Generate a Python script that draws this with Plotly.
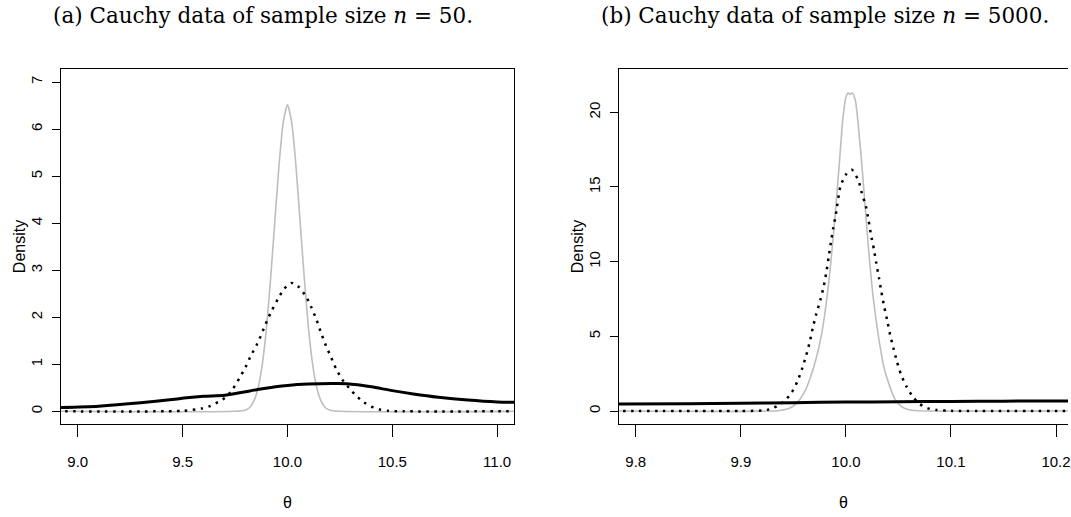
import plotly.graph_objects as go

# ---------------- data: panel (a), n = 50 ----------------
a_gray_x = [8.90, 9.75, 9.80, 9.82, 9.84, 9.86, 9.88, 9.90, 9.92, 9.94, 9.96, 9.98,
            10.00, 10.02, 10.04, 10.06, 10.08, 10.10, 10.12, 10.14, 10.16, 10.18,
            10.20, 10.25, 11.10]
a_gray_y = [0.0, 0.0, 0.03, 0.08, 0.22, 0.50, 1.00, 1.78, 2.85, 4.05, 5.25, 6.15,
            6.52, 6.15, 5.25, 4.05, 2.85, 1.78, 1.00, 0.50, 0.22, 0.08,
            0.03, 0.0, 0.0]

a_dot_x = [8.90, 9.50, 9.59, 9.63, 9.67, 9.71, 9.74, 9.77, 9.80, 9.825, 9.853, 9.877,
           9.902, 9.926, 9.956, 9.985, 10.02, 10.055, 10.09, 10.115, 10.139, 10.16,
           10.183, 10.208, 10.232, 10.262, 10.295, 10.33, 10.365, 10.40, 10.44, 10.48,
           10.55, 11.10]
a_dot_y = [0.0, 0.01, 0.06, 0.11, 0.20, 0.31, 0.48, 0.70, 0.94, 1.18, 1.41, 1.65,
           1.92, 2.15, 2.40, 2.61, 2.73, 2.64, 2.43, 2.20, 1.94, 1.67,
           1.40, 1.15, 0.90, 0.67, 0.49, 0.32, 0.19, 0.10, 0.04, 0.01,
           0.0, 0.0]

a_sol_x = [8.90, 9.10, 9.30, 9.45, 9.52, 9.60, 9.70, 9.78, 9.88, 10.00, 10.10, 10.24,
           10.32, 10.40, 10.50, 10.60, 10.72, 10.86, 11.00, 11.10]
a_sol_y = [0.08, 0.11, 0.18, 0.25, 0.29, 0.32, 0.34, 0.40, 0.48, 0.55, 0.58, 0.59,
           0.57, 0.52, 0.44, 0.37, 0.30, 0.24, 0.20, 0.19]

a_xticks = [9.0, 9.5, 10.0, 10.5, 11.0]
a_xticktext = ["9.0", "9.5", "10.0", "10.5", "11.0"]
a_yticks = [0, 1, 2, 3, 4, 5, 6, 7]

# ---------------- data: panel (b), n = 5000 ----------------
b_gray_x = [9.78, 9.935, 9.945, 9.952, 9.960, 9.966, 9.972, 9.977, 9.982, 9.986,
            9.990, 9.994, 9.997, 10.000, 10.002, 10.004, 10.006, 10.009, 10.012,
            10.016, 10.021, 10.026, 10.031, 10.036, 10.041, 10.047, 10.053, 10.060,
            10.068, 10.22]
b_gray_y = [0.0, 0.02, 0.15, 0.45, 1.2, 2.2, 3.6, 5.2, 7.6, 10.2,
            13.3, 16.8, 19.5, 21.0, 21.3, 21.2, 21.3, 20.8, 19.0,
            15.8, 11.3, 7.6, 5.0, 3.0, 1.8, 0.75, 0.3, 0.08,
            0.02, 0.0]

b_dot_x = [9.78, 9.90, 9.920, 9.9272, 9.9344, 9.942, 9.9485, 9.954, 9.9584, 9.9623,
           9.9656, 9.9685, 9.9718, 9.9757, 9.979, 9.9816, 9.9836, 9.9856, 9.9879,
           9.9905, 9.9948, 9.9997, 10.0056, 10.0118, 10.0151, 10.019, 10.0216,
           10.0239, 10.0266, 10.0289, 10.0315, 10.0338, 10.0364, 10.0393, 10.042,
           10.0452, 10.0485, 10.0525, 10.0577, 10.0636, 10.0702, 10.078, 10.0862,
           10.10, 10.22]
b_dot_y = [0.0, 0.0, 0.03, 0.11, 0.33, 0.69, 1.25, 2.01, 2.86, 3.75,
           4.62, 5.58, 6.50, 7.43, 8.39, 9.38, 10.31, 11.25, 12.23,
           13.19, 15.05, 15.8, 16.15, 15.45, 14.6, 13.71, 12.77,
           11.79, 10.85, 9.91, 8.91, 7.97, 7.01, 6.07, 5.13,
           4.22, 3.33, 2.43, 1.63, 0.96, 0.47, 0.18, 0.07,
           0.01, 0.0]

b_sol_x = [9.78, 9.85, 9.90, 9.95, 10.00, 10.05, 10.10, 10.15, 10.22]
b_sol_y = [0.46, 0.49, 0.52, 0.56, 0.60, 0.62, 0.64, 0.66, 0.68]

b_xticks = [9.8, 9.9, 10.0, 10.1, 10.2]
b_xticktext = ["9.8", "9.9", "10.0", "10.1", "10.2"]
b_yticks = [0, 5, 10, 15, 20]

titles = ["(a) Cauchy data of sample size <i>n</i> = 50.",
          "(b) Cauchy data of sample size <i>n</i> = 5000."]

# ---------------- figure ----------------
GRAY = "#bebebe"
fig = go.Figure()
for xs, ys, ax, ay in [(a_gray_x, a_gray_y, "x", "y"), (b_gray_x, b_gray_y, "x2", "y2")]:
    fig.add_trace(go.Scatter(x=xs, y=ys, mode="lines", xaxis=ax, yaxis=ay,
                             line=dict(color=GRAY, width=1.6, shape="spline", smoothing=0.6),
                             showlegend=False, hoverinfo="skip"))
for xs, ys, ax, ay in [(a_dot_x, a_dot_y, "x", "y"), (b_dot_x, b_dot_y, "x2", "y2")]:
    fig.add_trace(go.Scatter(x=xs, y=ys, mode="lines", xaxis=ax, yaxis=ay,
                             line=dict(color="black", width=2.5, dash="2.5px,5.5px",
                                       shape="spline", smoothing=0.6),
                             showlegend=False, hoverinfo="skip"))
for xs, ys, ax, ay in [(a_sol_x, a_sol_y, "x", "y"), (b_sol_x, b_sol_y, "x2", "y2")]:
    fig.add_trace(go.Scatter(x=xs, y=ys, mode="lines", xaxis=ax, yaxis=ay,
                             line=dict(color="black", width=3, shape="spline", smoothing=0.8),
                             showlegend=False, hoverinfo="skip"))

TICKFONT_X = dict(family="Liberation Sans Narrow, Liberation Sans, Arial", size=15, color="black")
TICKFONT_Y = dict(family="Liberation Sans, Arial", size=15, color="black")
common_x = dict(ticks="outside", ticklen=12, tickwidth=1, tickcolor="black",
                showline=True, linecolor="black", linewidth=1, mirror=True,
                showgrid=False, zeroline=False, tickfont=TICKFONT_X,
                ticklabelstandoff=12, ticklabeloverflow="allow",
                title=dict(text="θ", font=dict(family="Liberation Sans Narrow, Liberation Sans", size=16, color="black"),
                           standoff=27))
common_y = dict(ticks="outside", ticklen=8, tickwidth=1, tickcolor="black",
                showline=True, linecolor="black", linewidth=1,
                showgrid=False, zeroline=False, tickfont=TICKFONT_Y, tickangle=-90,
                ticklabelstandoff=4)

W, H = 1071, 517
ml, mt, mb = 60.5, 69, 93
pw = W - ml
fig.update_layout(
    width=W, height=H, autosize=False,
    margin=dict(l=ml, r=0, t=mt, b=mb, pad=0),
    paper_bgcolor="white", plot_bgcolor="white",
    xaxis=dict(domain=[0, (515 - ml) / pw], range=[8.92, 11.08],
               tickvals=a_xticks, ticktext=a_xticktext, anchor="y", **common_x),
    yaxis=dict(domain=[0, 1], range=[-0.27, 7.28], tickvals=a_yticks, anchor="x",
               mirror=True, **common_y),
    xaxis2=dict(domain=[(620.4 - ml) / pw, 1], range=[9.784, 10.2114],
                tickvals=b_xticks, ticktext=b_xticktext, anchor="y2", **common_x),
    yaxis2=dict(domain=[0, 1], range=[-0.87, 22.9], tickvals=b_yticks, anchor="x2",
                mirror=False, **common_y),
)

ph = H - mt - mb
for txt, xpx in zip(titles, [50, 600]):
    fig.add_annotation(text=txt, xref="paper", yref="paper",
                       x=(xpx - ml) / pw, y=1 + (mt - 15.5) / ph,
                       xanchor="left", yanchor="middle", showarrow=False,
                       font=dict(family="DejaVu Serif, Liberation Serif, serif", size=21.5, color="black"))

# y-axis titles ("Density"), placed beside each panel's tick labels
for xpx in [19, 579]:
    fig.add_annotation(text="Density", xref="paper", yref="paper",
                       x=(xpx - ml) / pw, y=0.5, textangle=-90,
                       xanchor="center", yanchor="middle", showarrow=False,
                       font=dict(family="Liberation Sans, Arial", size=16, color="black"))

fig.write_html("out.html")
